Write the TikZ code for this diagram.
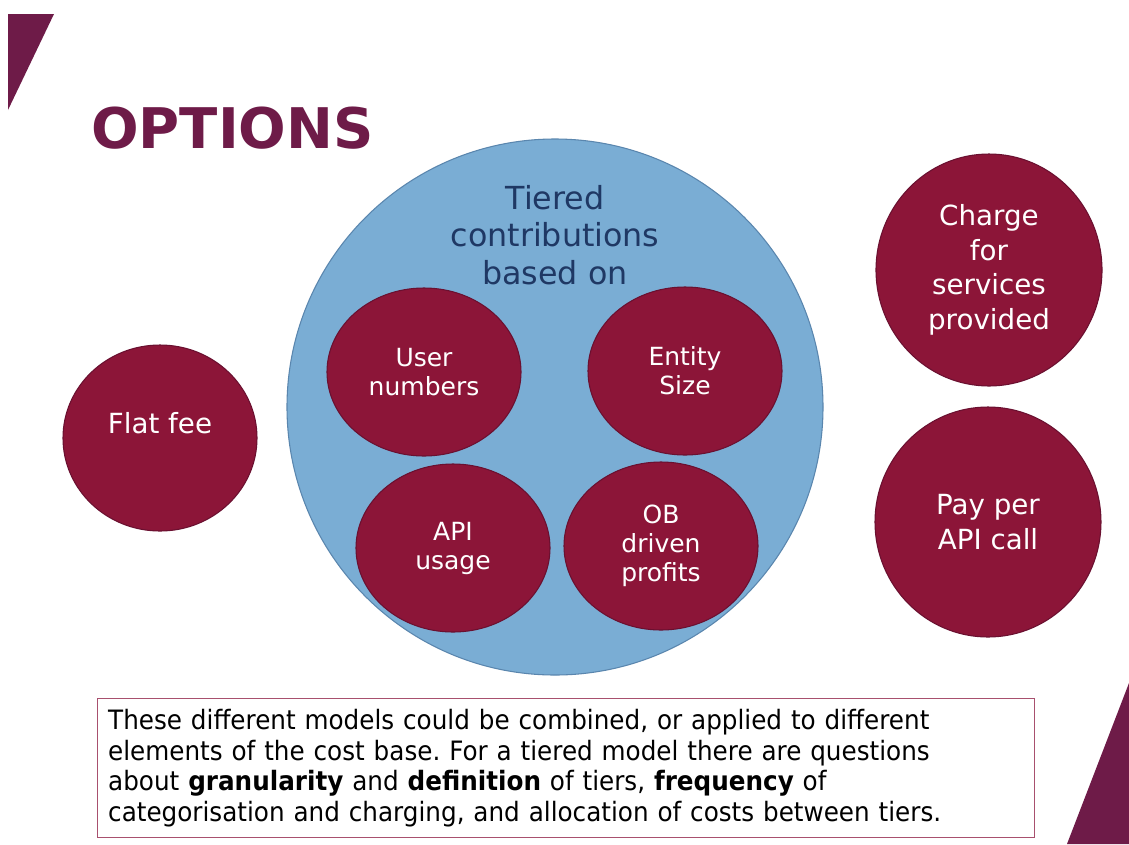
\documentclass[tikz,border=0pt]{standalone}
\usepackage{fontspec}
\setmainfont{DejaVu Sans}
\newfontfamily\notefont[FakeStretch=0.925]{DejaVu Sans}
\usetikzlibrary{shapes.geometric}
\frenchspacing
\definecolor{plum}{HTML}{6E1B48}
\definecolor{wine}{HTML}{8C1538}
\definecolor{wineedge}{HTML}{6A1030}
\definecolor{sky}{HTML}{7AADD4}
\definecolor{skyedge}{HTML}{5A86AE}
\definecolor{navy}{HTML}{1F3864}
\definecolor{boxedge}{HTML}{A8506E}
\tikzset{
  option/.style={ellipse,fill=wine,draw=wineedge,line width=0.8pt,inner sep=0pt,
                 text=white,align=center},
  tier/.style={option,minimum width=145.5pt,minimum height=126pt,
               font=\fontsize{18.75}{21.75}\selectfont},
  model/.style={option,font=\fontsize{20.8}{25.9}\selectfont},
}
\begin{document}
\begin{tikzpicture}[x=0.75pt,y=-0.75pt]
\useasboundingbox[fill=white] (0,0) rectangle (1129,844);
% corner wedges
\fill[plum] (8,14) -- (54,14) -- (8,110) -- cycle;
\fill[plum] (1129,683) -- (1067,844) -- (1129,844) -- cycle;
\node[anchor=base west,inner sep=0pt,text=plum,
      font=\fontsize{42}{42}\selectfont\bfseries] (title) at (91,148) {OPTIONS};

% tiered model with its four bases
\node[circle,fill=sky,draw=skyedge,line width=0.8pt,minimum size=402pt,
      inner sep=0pt] (tiered) at (555,407) {};
\node[text=navy,align=center,font=\fontsize{23.8}{28}\selectfont]
      (basis) at (555,235) {Tiered\\contributions\\based on};
\node[tier] (users)   at (424,372) {User\\numbers};
\node[tier] (entity)  at (685,371) {Entity\\Size};
\node[tier] (api)     at (453,548) {API\\usage};
\node[tier] (profits) at (661,546) {OB\\driven\\profits};

% the other models
\node[model,minimum width=145.5pt,minimum height=139.5pt] (flat) at (160,438) {};
\node[text=white,font=\fontsize{20.8}{25.9}\selectfont]
      at ([yshift=11.25pt]flat.center) {Flat fee};
\node[model,minimum width=169.5pt,minimum height=174pt] (services) at (989,270)
      {Charge\\for\\services\\provided};
\node[model,minimum width=169.5pt,minimum height=172.5pt] (percall) at (988,522)
      {Pay per\\API call};

% note
\node[draw=boxedge,line width=0.8pt,anchor=north west,text width=687pt,
      minimum height=101.25pt,inner sep=8pt,align=left,
      font=\notefont\fontsize{20}{22.9}\selectfont] (note) at (97,698)
  {These different models could be combined, or applied to different\\
   elements of the cost base. For a tiered model there are questions\\
   about \textbf{granularity} and \textbf{definition} of tiers, \textbf{frequency} of\\
   categorisation and charging, and allocation of costs between tiers.};
\end{tikzpicture}
\end{document}
